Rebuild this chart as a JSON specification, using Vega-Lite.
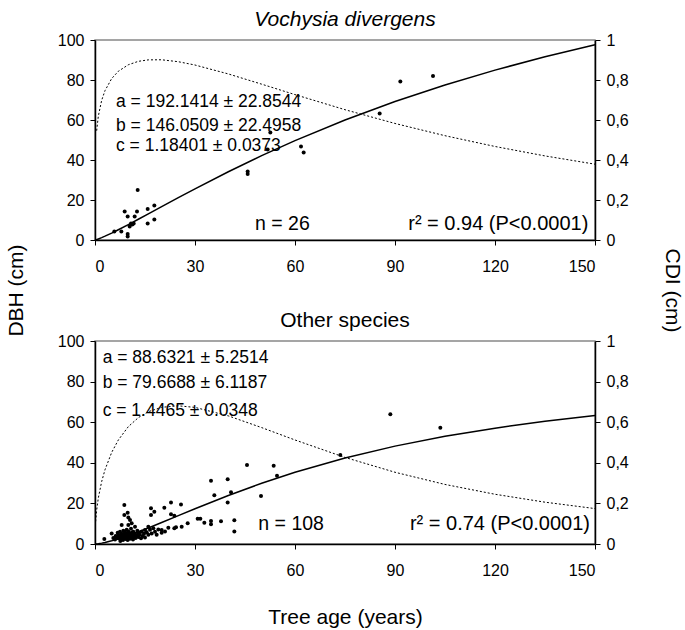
{
  "$schema": "https://vega.github.io/schema/vega-lite/v6.json",
  "padding": {"left": 4, "top": 8, "right": 0, "bottom": 2},
  "config": {
    "font": "Liberation Sans",
    "view": {"stroke": "#888888", "strokeWidth": 1.5},
    "axis": {"domainColor": "black", "domainWidth": 1.5, "tickColor": "black", "labelColor": "black", "titleColor": "black", "labelFontSize": 16, "titleFontSize": 21, "titleFontWeight": "normal", "grid": false, "tickSize": 5, "labelPadding": 6, "labelFont": "Liberation Sans", "titleFont": "Liberation Sans"},
    "axisX": {"labelPadding": 13},
    "title": {"fontSize": 21, "fontWeight": "normal", "color": "black", "offset": 2, "font": "Liberation Sans"}
  },
  "datasets": {
    "vpts": [
      {"t": 5.8, "D": 4.2}, {"t": 7.9, "D": 4.2}, {"t": 8.9, "D": 14.2}, {"t": 9.8, "D": 11.7}, {"t": 9.8, "D": 3.0}, {"t": 9.8, "D": 1.7},
      {"t": 10.4, "D": 6.7}, {"t": 10.8, "D": 8.3}, {"t": 11.6, "D": 8.3}, {"t": 11.9, "D": 11.7}, {"t": 12.6, "D": 14.2}, {"t": 12.8, "D": 25.0},
      {"t": 15.8, "D": 15.5}, {"t": 15.8, "D": 8.3}, {"t": 17.8, "D": 17.2}, {"t": 17.8, "D": 10.3}, {"t": 11.2, "D": 7.8},
      {"t": 45.8, "D": 34.2}, {"t": 45.8, "D": 33.0}, {"t": 51.8, "D": 45.3}, {"t": 52.6, "D": 53.7}, {"t": 61.8, "D": 46.7}, {"t": 62.6, "D": 43.7},
      {"t": 85.4, "D": 63.2}, {"t": 91.6, "D": 79.2}, {"t": 101.4, "D": 82.0}
    ],
    "vcurve": [
      {"t": 0, "D": 0},
      {"t": 0.5, "D": 0.231, "CDI": 0.5465}, {"t": 1, "D": 0.525, "CDI": 0.6193}, {"t": 2, "D": 1.187, "CDI": 0.6985}, {"t": 3, "D": 1.912, "CDI": 0.7469},
      {"t": 5, "D": 3.471, "CDI": 0.8071}, {"t": 7, "D": 5.125, "CDI": 0.8437}, {"t": 10, "D": 7.710, "CDI": 0.8762}, {"t": 13, "D": 10.367, "CDI": 0.8933},
      {"t": 16, "D": 13.060, "CDI": 0.9007}, {"t": 20, "D": 16.667, "CDI": 0.9011}, {"t": 25, "D": 21.151, "CDI": 0.8914}, {"t": 30, "D": 25.571, "CDI": 0.8749},
      {"t": 40, "D": 34.104, "CDI": 0.8303}, {"t": 50, "D": 42.155, "CDI": 0.7792}, {"t": 60, "D": 49.686, "CDI": 0.7269}, {"t": 75, "D": 60.016, "CDI": 0.6515},
      {"t": 90, "D": 69.265, "CDI": 0.5827}, {"t": 105, "D": 77.537, "CDI": 0.5215}, {"t": 120, "D": 84.946, "CDI": 0.4676}, {"t": 135, "D": 91.601, "CDI": 0.4204},
      {"t": 150, "D": 97.587, "CDI": 0.3791}
    ],
    "vtext": [
      {"label": "a = 192.1414 ± 22.8544", "t": 6.3, "D": 69, "kind": "p"},
      {"label": "b = 146.0509 ± 22.4958", "t": 6.3, "D": 57, "kind": "p"},
      {"label": "c = 1.18401 ± 0.0373", "t": 6.3, "D": 47, "kind": "p"},
      {"label": "n = 26", "t": 48, "D": 8, "kind": "n"},
      {"label": "r² = 0.94 (P<0.0001)", "t": 148, "D": 8, "kind": "r"}
    ],
    "opts": [
      {"t": 88.6, "D": 63.9}, {"t": 103.6, "D": 57.3}, {"t": 73.6, "D": 43.8}, {"t": 54.6, "D": 33.6}, {"t": 53.6, "D": 38.6}, {"t": 45.6, "D": 38.9},
      {"t": 34.8, "D": 31.2}, {"t": 39.8, "D": 31.9}, {"t": 35.8, "D": 24.0}, {"t": 40.8, "D": 25.5}, {"t": 39.8, "D": 20.4}, {"t": 49.8, "D": 23.6},
      {"t": 22.8, "D": 20.4}, {"t": 25.8, "D": 19.5}, {"t": 22.8, "D": 14.6}, {"t": 23.8, "D": 13.9}, {"t": 30.8, "D": 12.5}, {"t": 31.6, "D": 12.5},
      {"t": 27.8, "D": 10.2}, {"t": 32.8, "D": 10.5}, {"t": 34.8, "D": 11.3}, {"t": 34.8, "D": 9.7}, {"t": 37.8, "D": 11.2}, {"t": 41.8, "D": 11.7},
      {"t": 41.8, "D": 6.1}, {"t": 23.8, "D": 7.7}, {"t": 24.3, "D": 8.2}, {"t": 8.8, "D": 19.2}, {"t": 9.8, "D": 15.4}, {"t": 8.8, "D": 14.3},
      {"t": 16.8, "D": 17.6}, {"t": 17.8, "D": 15.9}, {"t": 20.8, "D": 17.9}, {"t": 16.8, "D": 14.3}, {"t": 10, "D": 13}, {"t": 10.5, "D": 11.8},
      {"t": 8, "D": 9.4}, {"t": 10, "D": 9.4}, {"t": 11, "D": 10.2}, {"t": 15, "D": 6.9}, {"t": 16, "D": 8.5}, {"t": 17.5, "D": 7.7},
      {"t": 20, "D": 6.9}, {"t": 2.8, "D": 2.5},
      {"t": 5.0, "D": 5.2}, {"t": 5.5, "D": 3.0}, {"t": 6.0, "D": 2.2}, {"t": 6.2, "D": 4.0}, {"t": 6.5, "D": 3.5}, {"t": 6.8, "D": 5.5},
      {"t": 7.0, "D": 2.8}, {"t": 7.0, "D": 4.5}, {"t": 7.3, "D": 3.2}, {"t": 7.5, "D": 6.0}, {"t": 7.6, "D": 1.5}, {"t": 7.8, "D": 2.5},
      {"t": 8.0, "D": 3.8}, {"t": 8.0, "D": 5.0}, {"t": 8.2, "D": 4.2}, {"t": 8.4, "D": 2.0}, {"t": 8.5, "D": 6.5}, {"t": 8.6, "D": 3.0},
      {"t": 8.8, "D": 4.8}, {"t": 9.0, "D": 3.5}, {"t": 9.0, "D": 5.8}, {"t": 9.2, "D": 2.5}, {"t": 9.3, "D": 4.0}, {"t": 9.5, "D": 7.0},
      {"t": 9.5, "D": 3.0}, {"t": 9.7, "D": 5.2}, {"t": 9.8, "D": 2.0}, {"t": 10.0, "D": 4.5}, {"t": 10.0, "D": 6.2}, {"t": 10.2, "D": 3.3},
      {"t": 10.3, "D": 5.0}, {"t": 10.5, "D": 2.6}, {"t": 10.6, "D": 4.0}, {"t": 10.8, "D": 7.5}, {"t": 11.0, "D": 3.0}, {"t": 11.0, "D": 5.5},
      {"t": 11.2, "D": 4.3}, {"t": 11.4, "D": 2.2}, {"t": 11.5, "D": 6.0}, {"t": 11.7, "D": 3.6}, {"t": 12.0, "D": 5.0}, {"t": 12.0, "D": 8.5},
      {"t": 12.2, "D": 3.0}, {"t": 12.5, "D": 4.2}, {"t": 12.7, "D": 6.5}, {"t": 13.0, "D": 3.5}, {"t": 13.0, "D": 5.5}, {"t": 13.4, "D": 4.5},
      {"t": 13.8, "D": 2.8}, {"t": 14.0, "D": 6.0}, {"t": 14.3, "D": 4.0}, {"t": 14.7, "D": 5.0}, {"t": 15.0, "D": 3.2}, {"t": 15.5, "D": 5.8},
      {"t": 16.0, "D": 4.5}, {"t": 16.5, "D": 7.0}, {"t": 17.0, "D": 5.2}, {"t": 18.0, "D": 6.0}, {"t": 18.5, "D": 4.5}, {"t": 19.0, "D": 7.2},
      {"t": 20.0, "D": 5.5}, {"t": 21.0, "D": 6.2}, {"t": 22.0, "D": 8.0}, {"t": 26.0, "D": 8.5}
    ],
    "ocurve": [
      {"t": 0, "D": 0},
      {"t": 0.2, "D": 0.015, "CDI": 0.1111}, {"t": 0.5, "D": 0.058, "CDI": 0.1670}, {"t": 1, "D": 0.157, "CDI": 0.2271}, {"t": 2, "D": 0.427, "CDI": 0.3075},
      {"t": 3, "D": 0.765, "CDI": 0.3658}, {"t": 5, "D": 1.587, "CDI": 0.4509}, {"t": 7, "D": 2.553, "CDI": 0.5124}, {"t": 10, "D": 4.196, "CDI": 0.5782},
      {"t": 13, "D": 6.001, "CDI": 0.6225}, {"t": 16, "D": 7.916, "CDI": 0.6517}, {"t": 20, "D": 10.572, "CDI": 0.6734}, {"t": 25, "D": 13.965, "CDI": 0.6807},
      {"t": 30, "D": 17.354, "CDI": 0.6729}, {"t": 40, "D": 23.895, "CDI": 0.6311}, {"t": 50, "D": 29.925, "CDI": 0.5734}, {"t": 60, "D": 35.353, "CDI": 0.5124},
      {"t": 75, "D": 42.382, "CDI": 0.4265}, {"t": 90, "D": 48.212, "CDI": 0.3534}, {"t": 105, "D": 53.048, "CDI": 0.2934}, {"t": 120, "D": 57.074, "CDI": 0.2450},
      {"t": 135, "D": 60.444, "CDI": 0.2060}, {"t": 150, "D": 63.290, "CDI": 0.1745}
    ],
    "otext": [
      {"label": "a = 88.6321 ± 5.2514", "t": 2.3, "D": 91.5, "kind": "p"},
      {"label": "b = 79.6688 ± 6.1187", "t": 2.3, "D": 79.2, "kind": "p"},
      {"label": "c = 1.4465 ± 0.0348", "t": 2.3, "D": 65.5, "kind": "p"},
      {"label": "n = 108", "t": 49, "D": 10, "kind": "n"},
      {"label": "r² = 0.74 (P<0.0001)", "t": 148.5, "D": 10, "kind": "r"}
    ]
  },
  "bounds": "flush",
  "spacing": 101,
  "vconcat": [
    {
      "width": 500, "height": 200,
      "title": {"text": "Vochysia divergens", "fontStyle": "italic"},
      "encoding": {"x": {"field": "t", "type": "quantitative", "scale": {"domain": [0, 150], "nice": false}, "axis": {"values": [0, 30, 60, 90, 120, 150], "title": null}}},
      "layer": [
        {
          "encoding": {"y": {"field": "D", "type": "quantitative", "scale": {"domain": [0, 100], "nice": false}, "axis": {"values": [0, 20, 40, 60, 80, 100], "title": "DBH (cm)", "titleX": -69, "titleY": 250}}},
          "layer": [
            {"data": {"name": "vpts"}, "mark": {"type": "circle", "size": 16, "color": "black", "opacity": 1}},
            {"data": {"name": "vcurve"}, "mark": {"type": "line", "color": "black", "strokeWidth": 1.5}},
            {"data": {"name": "vtext"}, "transform": [{"filter": "datum.kind == 'p'"}], "mark": {"type": "text", "align": "left", "baseline": "middle", "fontSize": 17.5, "color": "black"}, "encoding": {"text": {"field": "label"}}},
            {"data": {"name": "vtext"}, "transform": [{"filter": "datum.kind == 'n'"}], "mark": {"type": "text", "align": "left", "baseline": "middle", "fontSize": 19.5, "color": "black"}, "encoding": {"text": {"field": "label"}}},
            {"data": {"name": "vtext"}, "transform": [{"filter": "datum.kind == 'r'"}], "mark": {"type": "text", "align": "right", "baseline": "middle", "fontSize": 20, "color": "black"}, "encoding": {"text": {"field": "label"}}}
          ]
        },
        {
          "data": {"name": "vcurve"},
          "mark": {"type": "line", "color": "black", "strokeWidth": 1, "strokeDash": [2, 2]},
          "encoding": {"y": {"field": "CDI", "type": "quantitative", "scale": {"domain": [0, 1], "nice": false}, "axis": {"orient": "right", "values": [0, 0.2, 0.4, 0.6, 0.8, 1], "labelExpr": "datum.value == 0 ? '0' : datum.value == 1 ? '1' : replace(format(datum.value, '.1f'), '.', ',')", "title": "CDI (cm)", "titleX": 66, "titleY": 250}}}
        }
      ],
      "resolve": {"scale": {"y": "independent"}}
    },
    {
      "width": 500, "height": 203,
      "title": {"text": "Other species"},
      "encoding": {"x": {"field": "t", "type": "quantitative", "scale": {"domain": [0, 150], "nice": false}, "axis": {"values": [0, 30, 60, 90, 120, 150], "title": "Tree age (years)", "titlePadding": 28}}},
      "layer": [
        {
          "encoding": {"y": {"field": "D", "type": "quantitative", "scale": {"domain": [0, 100], "nice": false}, "axis": {"values": [0, 20, 40, 60, 80, 100], "title": null}}},
          "layer": [
            {"data": {"name": "opts"}, "mark": {"type": "circle", "size": 16, "color": "black", "opacity": 1}},
            {"data": {"name": "ocurve"}, "mark": {"type": "line", "color": "black", "strokeWidth": 1.5}},
            {"data": {"name": "otext"}, "transform": [{"filter": "datum.kind == 'p'"}], "mark": {"type": "text", "align": "left", "baseline": "middle", "fontSize": 17.5, "color": "black"}, "encoding": {"text": {"field": "label"}}},
            {"data": {"name": "otext"}, "transform": [{"filter": "datum.kind == 'n'"}], "mark": {"type": "text", "align": "left", "baseline": "middle", "fontSize": 19.5, "color": "black"}, "encoding": {"text": {"field": "label"}}},
            {"data": {"name": "otext"}, "transform": [{"filter": "datum.kind == 'r'"}], "mark": {"type": "text", "align": "right", "baseline": "middle", "fontSize": 20, "color": "black"}, "encoding": {"text": {"field": "label"}}}
          ]
        },
        {
          "data": {"name": "ocurve"},
          "mark": {"type": "line", "color": "black", "strokeWidth": 1, "strokeDash": [2, 2]},
          "encoding": {"y": {"field": "CDI", "type": "quantitative", "scale": {"domain": [0, 1], "nice": false}, "axis": {"orient": "right", "values": [0, 0.2, 0.4, 0.6, 0.8, 1], "labelExpr": "datum.value == 0 ? '0' : datum.value == 1 ? '1' : replace(format(datum.value, '.1f'), '.', ',')", "title": null}}}
        }
      ],
      "resolve": {"scale": {"y": "independent"}}
    }
  ]
}
